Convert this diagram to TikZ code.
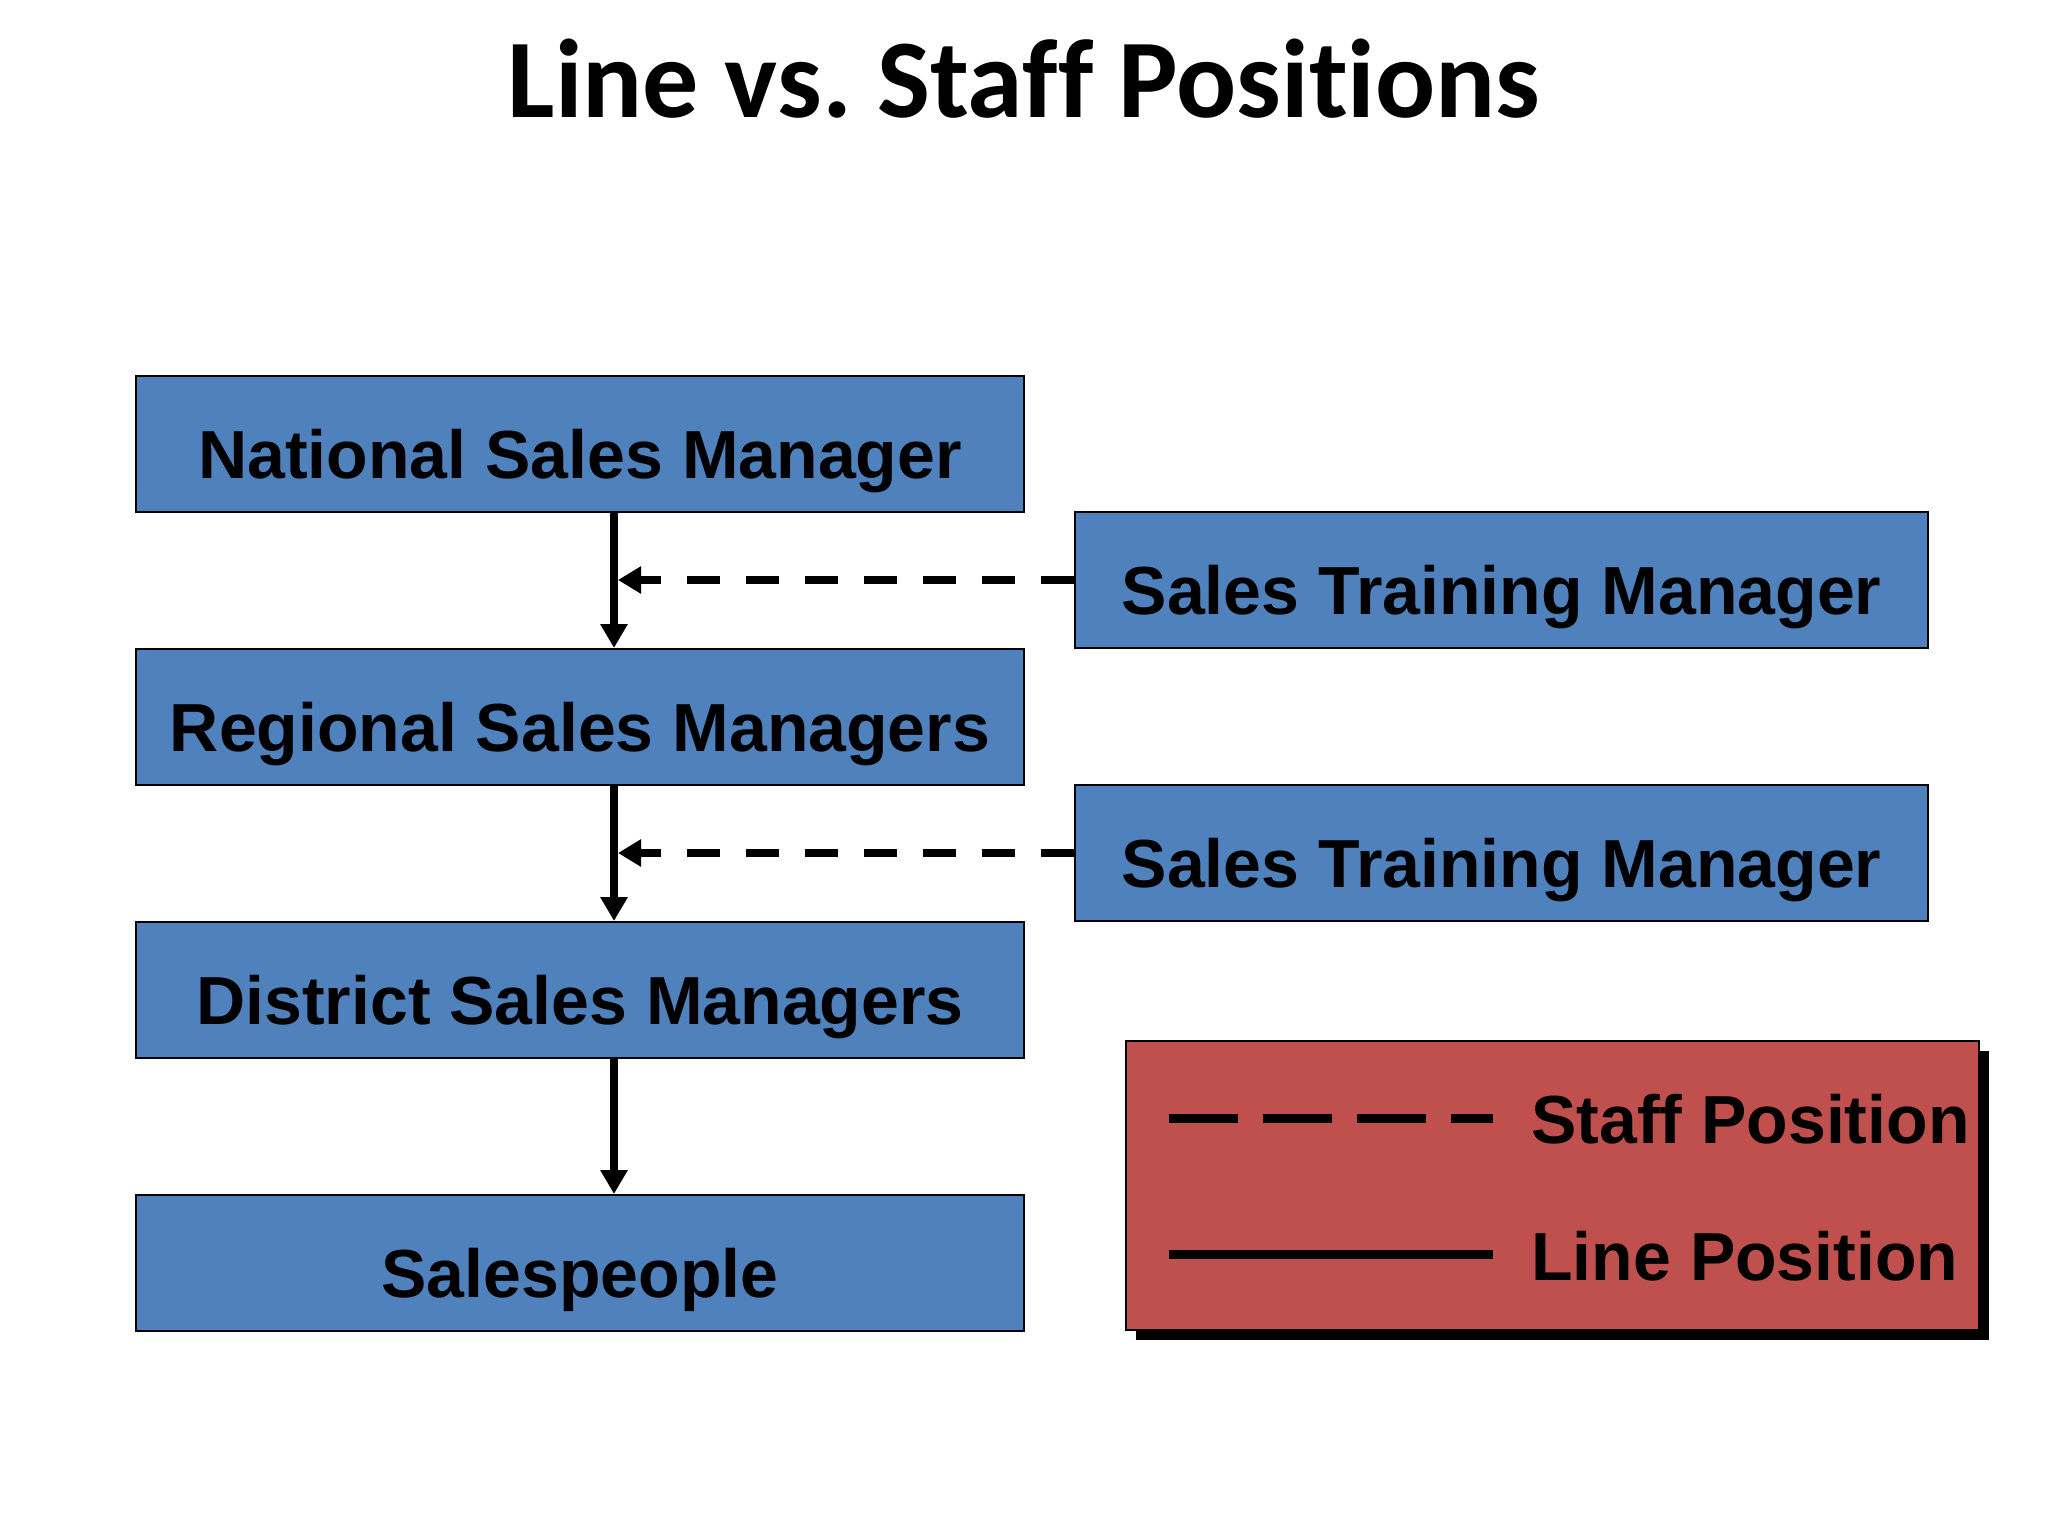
\documentclass[tikz,border=0pt]{standalone}
\usepackage{fontspec}
\setmainfont{Liberation Sans}
\newfontfamily\titlefont[Ligatures={NoCommon}]{Carlito}
\usetikzlibrary{arrows.meta,shadows}
\definecolor{boxblue}{HTML}{4F81BD}
\definecolor{legred}{HTML}{C0504D}
\tikzset{
  posbox/.style={draw=black, line width=1pt, fill=boxblue, minimum width=444pt, minimum height=68pt,
    inner sep=1pt, text height=34pt, text depth=0pt, font=\fontsize{34}{40}\selectfont\bfseries},
  stmbox/.style={posbox, minimum width=426.5pt},
  linearrow/.style={line width=4pt, -{Triangle[length=12pt,width=13pt]}},
  staffarrow/.style={line width=4pt, dash pattern=on 16.5pt off 13pt, -{Triangle[length=11.5pt,width=13pt]}},
  legline/.style={line width=4.5pt},
  legtext/.style={anchor=base west, inner sep=0pt, font=\fontsize{34}{40}\selectfont\bfseries},
}
\begin{document}
\begin{tikzpicture}[x=0.5pt,y=-0.5pt]
\useasboundingbox (0,0) rectangle (2048,1536);
\node[anchor=base, inner sep=0pt, font=\titlefont\fontsize{56}{64}\selectfont\bfseries] (title) at (1024,118) {Line vs.\ Staff Positions};

\node[posbox] (nsm) at (580,444) {National Sales Manager};
\node[posbox] (rsm) at (580,717) {Regional Sales Managers};
\node[posbox] (dsm) at (580,990) {District Sales Managers};
\node[posbox] (sp)  at (580,1263) {Salespeople};
\node[stmbox] (stm1) at (1501.5,580) {Sales Training Manager};
\node[stmbox] (stm2) at (1501.5,853) {Sales Training Manager};

\coordinate (ax) at (614,0);
\coordinate (axr) at (618,0);
\draw[linearrow] (ax |- nsm.south) -- (ax |- rsm.north);
\draw[linearrow] (ax |- rsm.south) -- (ax |- dsm.north);
\draw[linearrow] (ax |- dsm.south) -- (ax |- sp.north);
\draw[staffarrow] (stm1.west) -- (axr |- stm1.west);
\draw[staffarrow] (stm2.west) -- (axr |- stm2.west);

\node[draw=black, line width=1pt, fill=legred, minimum width=426.5pt, minimum height=144.5pt,
  drop shadow={shadow xshift=5pt, shadow yshift=-5pt, opacity=1, fill=black}] (legend) at (1552.5,1185.5) {};
\coordinate (sda) at (1169,1118);
\coordinate (sdb) at (1493,1118);
\coordinate (sla) at (1169,1254);
\coordinate (slb) at (1493,1254);
\draw[legline, dash pattern=on 34.5pt off 12.5pt] (sda) -- (sdb);
\draw[legline] (sla) -- (slb);
\node[legtext] (staff) at (1531,1143) {Staff Position};
\node[legtext] (line) at (1531,1280) {Line Position};
\end{tikzpicture}
\end{document}
